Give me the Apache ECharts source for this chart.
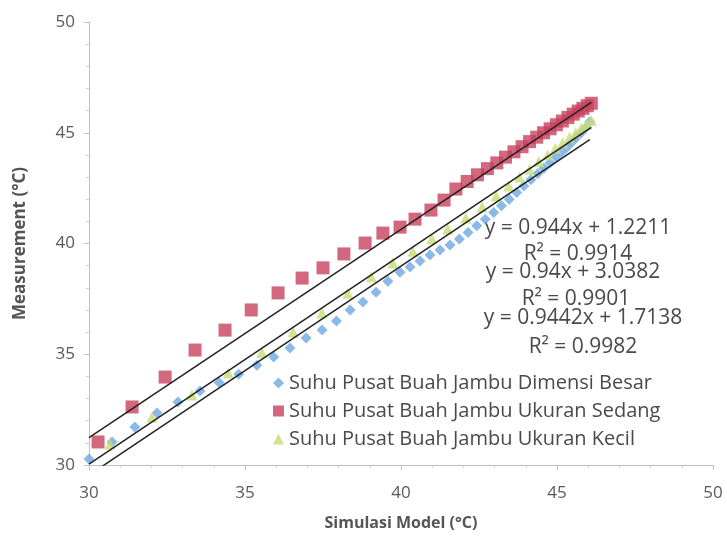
<!DOCTYPE html>
<html>
<head>
<meta charset="utf-8">
<script src="https://cdn.jsdelivr.net/npm/echarts@6/dist/echarts.min.js"></script>
<style>
  html, body { margin: 0; padding: 0; background: #fff; }
  #chart { width: 727px; height: 539px; }
</style>
</head>
<body>
<div id="chart"></div>
<script>
// Suhu Pusat Buah Jambu Dimensi Besar
const besarX = [30.0, 30.74, 31.47, 32.18, 32.85, 33.56, 34.17, 34.8, 35.38, 35.92, 36.44, 36.96, 37.47, 37.93,
  38.37, 38.78, 39.2, 39.58, 39.97, 40.29, 40.61, 40.93, 41.25, 41.57, 41.87, 42.15, 42.43, 42.7, 42.97, 43.22,
  43.47, 43.71, 43.94, 44.16, 44.38, 44.58, 44.78, 44.97, 45.15, 45.32, 45.48, 45.63, 45.78, 45.92, 46.05];
const besarY = [30.27, 31.04, 31.72, 32.35, 32.84, 33.34, 33.72, 34.1, 34.5, 34.88, 35.28, 35.73, 36.09, 36.5,
  37.0, 37.36, 37.8, 38.3, 38.7, 38.94, 39.21, 39.48, 39.71, 39.93, 40.2, 40.5, 40.8, 41.1, 41.4, 41.7,
  42.0, 42.3, 42.6, 42.88, 43.15, 43.4, 43.65, 43.9, 44.12, 44.35, 44.58, 44.8, 45.0, 45.22, 45.5];

// Suhu Pusat Buah Jambu Ukuran Sedang
const sedangX = [30.29, 31.38, 32.44, 33.4, 34.36, 35.2, 36.06, 36.83, 37.5, 38.17, 38.85, 39.42, 39.97, 40.45,
  40.96, 41.38, 41.76, 42.12, 42.45, 42.77, 43.07, 43.35, 43.62, 43.88, 44.12, 44.35, 44.57, 44.78, 44.98,
  45.17, 45.35, 45.52, 45.68, 45.83, 45.97, 46.1];
const sedangY = [31.04, 32.62, 33.97, 35.19, 36.09, 37.0, 37.77, 38.44, 38.9, 39.53, 40.02, 40.47, 40.74, 41.1,
  41.51, 41.96, 42.46, 42.8, 43.1, 43.38, 43.64, 43.9, 44.14, 44.37, 44.6, 44.8, 45.0, 45.18, 45.36,
  45.53, 45.69, 45.84, 45.98, 46.1, 46.22, 46.33];

// Suhu Pusat Buah Jambu Ukuran Kecil
const kecilX = [30.67, 32.02, 33.3, 34.46, 35.54, 36.54, 37.47, 38.3, 39.05, 39.74, 40.38, 40.99, 41.5, 42.08,
  42.6, 43.05, 43.45, 43.8, 44.12, 44.42, 44.7, 44.95, 45.18, 45.4, 45.6, 45.78, 45.95, 46.1];
const kecilY = [30.95, 32.17, 33.16, 34.15, 35.08, 36.0, 36.86, 37.75, 38.5, 39.12, 39.65, 40.2, 40.65, 41.15,
  41.65, 42.15, 42.6, 43.0, 43.35, 43.7, 44.0, 44.3, 44.55, 44.8, 45.0, 45.2, 45.38, 45.55];

const seriesNames = ['Suhu Pusat Buah Jambu Dimensi Besar', 'Suhu Pusat Buah Jambu Ukuran Sedang', 'Suhu Pusat Buah Jambu Ukuran Kecil'];
// trendline coefficients (slope, intercept) and R² as printed on the chart
const slopes = [0.944, 0.94, 0.9442];
const intercepts = [1.2211, 3.0382, 1.7138];
const r2 = ['0.9914', '0.9901', '0.9982'];
const xTicks = [30, 35, 40, 45, 50];

const chart = echarts.init(document.getElementById('chart'));
const pair = (xs, ys) => xs.map((x, i) => [x, ys[i]]);
const trend = (k, xs) => [30, xs[xs.length - 1]].map(x => [x, slopes[k] * x + intercepts[k]]);
const allX = [besarX, sedangX, kecilX];

const font = 'Open Sans';
const textColor = '#4a4a4a';
const eqLabels = [
  { t: 'y = ' + slopes[0] + 'x + ' + intercepts[0], x: 578, y: 228 },
  { t: 'R² = ' + r2[0], x: 578, y: 254 },
  { t: 'y = ' + slopes[1] + 'x + ' + intercepts[1], x: 573, y: 272 },
  { t: 'R² = ' + r2[1], x: 576, y: 299 },
  { t: 'y = ' + slopes[2] + 'x + ' + intercepts[2], x: 583, y: 318 },
  { t: 'R² = ' + r2[2], x: 583, y: 347 }
];

const option = {
  animation: false,
  backgroundColor: '#fff',
  grid: { left: 89, right: 14, top: 22, bottom: 74 },
  legend: {
    data: seriesNames,
    orient: 'vertical',
    left: 268,
    top: 368,
    itemWidth: 11,
    itemHeight: 11,
    itemGap: 8,
    textStyle: { fontFamily: font, fontSize: 20, color: textColor }
  },
  xAxis: {
    type: 'value', min: 30, max: 50, interval: 5,
    name: 'Simulasi Model (°C)', nameLocation: 'middle', nameGap: 50,
    nameTextStyle: { fontFamily: font, fontSize: 16, fontWeight: 'bold', color: '#555' },
    axisLine: { lineStyle: { color: '#b4c2d4' } },
    axisTick: { length: 5, lineStyle: { color: '#b4c2d4' } },
    minorTick: { show: true, splitNumber: 5, length: 3, lineStyle: { color: '#c8d2de' } },
    splitLine: { show: false },
    axisLabel: { fontFamily: font, fontSize: 17, color: '#5a5a5a', margin: 20, formatter: v => xTicks.includes(v) ? v : '' }
  },
  yAxis: {
    type: 'value', min: 30, max: 50, interval: 5,
    name: 'Measurement (°C)', nameLocation: 'middle', nameGap: 60,
    nameTextStyle: { fontFamily: font, fontSize: 17, fontWeight: 'bold', color: '#555' },
    axisLine: { show: true, lineStyle: { color: '#b4c2d4' } },
    axisTick: { show: true, length: 5, lineStyle: { color: '#b4c2d4' } },
    minorTick: { show: true, splitNumber: 5, length: 3, lineStyle: { color: '#c8d2de' } },
    splitLine: { show: false },
    axisLabel: { fontFamily: font, fontSize: 17, color: '#5a5a5a', margin: 14 }
  },
  graphic: eqLabels.map(e => ({
    type: 'text', x: e.x, y: e.y,
    style: { text: e.t, fill: textColor, font: '21px "' + font + '"', textAlign: 'center', textVerticalAlign: 'middle' }
  })),
  series: [
    { name: seriesNames[0], type: 'scatter', data: pair(besarX, besarY), symbol: 'diamond', symbolSize: 11,
      itemStyle: { color: '#6ea8e2' }, z: 3 },
    { name: seriesNames[1], type: 'scatter', data: pair(sedangX, sedangY), symbol: 'rect', symbolSize: 13,
      itemStyle: { color: '#c7415c' }, z: 2 },
    { name: seriesNames[2], type: 'scatter', data: pair(kecilX, kecilY), symbol: 'triangle', symbolSize: 11,
      itemStyle: { color: '#c5dd74' }, z: 4 }
  ].concat([0, 1, 2].map(k => ({
    type: 'line', data: trend(k, allX[k]), symbol: 'none', silent: true, z: 5,
    lineStyle: { color: '#222', width: 1.5 }
  })))
};

chart.setOption(option);
</script>
</body>
</html>
